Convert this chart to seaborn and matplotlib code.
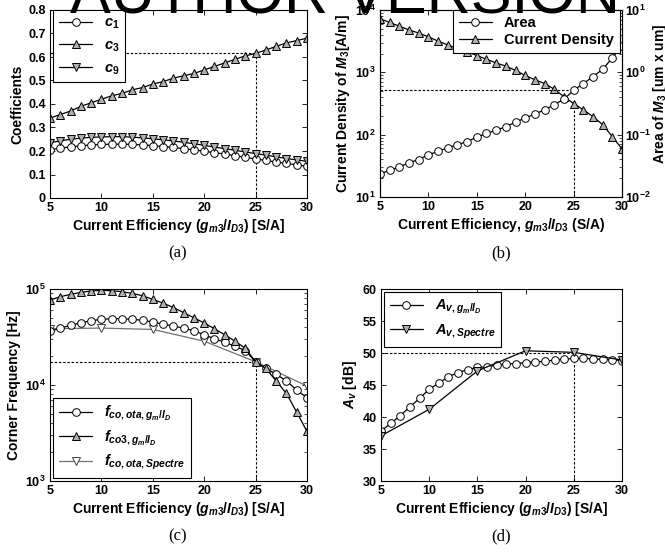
import numpy as np
import pandas as pd
import matplotlib
matplotlib.use("Agg")
import matplotlib.pyplot as plt
import seaborn as sns
from matplotlib.ticker import LogLocator, NullFormatter, MultipleLocator, FuncFormatter

# ---------------- data ----------------
x_full = list(range(5, 31))
x_spec = [5, 10, 15, 20, 25, 30]

c1 = [0.205, 0.212, 0.218, 0.222, 0.226, 0.228, 0.229, 0.229, 0.228, 0.226, 0.223, 0.219, 0.215,
      0.210, 0.205, 0.199, 0.193, 0.187, 0.180, 0.173, 0.166, 0.160, 0.153, 0.147, 0.141, 0.135]
c3 = [0.340, 0.355, 0.370, 0.390, 0.405, 0.420, 0.435, 0.445, 0.460, 0.470, 0.485, 0.495, 0.510,
      0.520, 0.530, 0.545, 0.560, 0.575, 0.590, 0.605, 0.615, 0.630, 0.645, 0.660, 0.670, 0.680]
c9 = [0.235, 0.243, 0.250, 0.255, 0.258, 0.260, 0.261, 0.261, 0.259, 0.256, 0.252, 0.248, 0.243,
      0.237, 0.231, 0.224, 0.217, 0.210, 0.203, 0.196, 0.189, 0.182, 0.175, 0.168, 0.162, 0.156]

current_density = [7244, 6310, 5495, 4786, 4266, 3715, 3162, 2754, 2399, 2138, 1862, 1622, 1413,
                   1259, 1072, 891, 759, 661, 537, 407, 316, 251, 195, 145, 93, 59]
area = [0.0234, 0.0269, 0.0302, 0.0355, 0.0398, 0.0479, 0.0537, 0.0617, 0.0692, 0.0776, 0.0912,
        0.105, 0.117, 0.135, 0.158, 0.186, 0.214, 0.251, 0.302, 0.372, 0.513, 0.661, 0.851,
        1.12, 1.70, 2.69]

f_co_ota = [36140, 39170, 41780, 44570, 46770, 48310, 49090, 49090, 48310, 47210, 45290, 43150,
            41110, 39170, 36730, 33340, 30270, 27930, 25350, 22800, 17460, 14860, 12940, 11020,
            8851, 7362]
f_co3 = [76560, 83180, 87900, 92260, 95280, 96830, 95940, 93760, 89950, 85110, 77800, 71290,
         64120, 56750, 50120, 44260, 38550, 33340, 28580, 24100, 17460, 14860, 11020, 8166,
         5200, 3281]
f_co_spectre = [38550, 39170, 37930, 28580, 17460, 9750]

av_gmid = [37.8, 39.0, 40.2, 41.6, 42.9, 44.35, 45.3, 46.3, 46.95, 47.4, 47.75, 47.85, 48.1,
           48.3, 48.35, 48.5, 48.6, 48.7, 48.9, 49.05, 49.15, 49.15, 49.1, 49.0, 48.95, 48.8]
av_spectre = [37.05, 41.2, 47.2, 50.35, 50.1, 48.9]

# ---------------- style ----------------
sns.set_theme(style="ticks")
plt.rcParams.update({
    "font.family": ["Liberation Sans", "DejaVu Sans"],
    "font.weight": "bold",
    "axes.labelweight": "bold",
    "axes.labelsize": 10,
    "xtick.labelsize": 9,
    "ytick.labelsize": 9,
    "mathtext.fontset": "custom",
    "mathtext.rm": "Liberation Sans:bold",
    "mathtext.it": "Liberation Sans:bold:italic",
    "mathtext.bf": "Liberation Sans:bold",
    "mathtext.sf": "Liberation Sans:bold",
    "xtick.direction": "in",
    "ytick.direction": "in",
    "xtick.top": True,
    "ytick.right": True,
    "xtick.major.size": 3.5,
    "ytick.major.size": 3.5,
    "xtick.minor.size": 2,
    "ytick.minor.size": 2,
    "xtick.major.width": 0.6,
    "ytick.major.width": 0.6,
    "ytick.minor.width": 0.5,
    "axes.edgecolor": "black",
    "axes.linewidth": 0.8,
    "xtick.color": "black",
    "ytick.color": "black",
    "text.color": "black",
    "axes.labelcolor": "black",
})

W, H = 665, 554
fig = plt.figure(figsize=(W / 100, H / 100), dpi=100)


def rect(l, r, t, b):
    return [l / W, 1 - b / H, (r - l) / W, (b - t) / H]


ax_a = fig.add_axes(rect(50, 307, 10, 198))
ax_b = fig.add_axes(rect(380, 622, 10, 197))
ax_c = fig.add_axes(rect(50, 307, 289, 481))
ax_d = fig.add_axes(rect(381, 622, 289, 481))

GRAY = "#b0b0b0"
WHITE = "#ffffff"


def draw(ax, x, y, marker, mfc, color="black", ms=6, mec="black"):
    sns.lineplot(x=x, y=y, ax=ax, marker=marker, color=color, markerfacecolor=mfc,
                 markeredgecolor=mec, markersize=ms, markeredgewidth=0.7, linewidth=0.9,
                 legend=False)
    return ax.lines[-1]


dash = dict(color="black", linestyle=(0, (2.2, 1.6)), linewidth=0.8, zorder=1)
leg_kw = dict(frameon=True, fancybox=False, framealpha=1, edgecolor="black",
              handlelength=2.3, borderaxespad=0, prop={"size": 10.5, "weight": "bold"})

# ---------------- (a) ----------------
ax = ax_a
h1 = draw(ax, x_full, c1, "o", WHITE, ms=5.5)
h3 = draw(ax, x_full, c3, "^", GRAY)
h9 = draw(ax, x_full, c9, "v", GRAY)
ax.plot([5, 25], [c3[20], c3[20]], **dash)
ax.plot([25, 25], [0, c3[20]], **dash)
ax.set_xlim(5, 30)
ax.set_ylim(0, 0.8)
ax.xaxis.set_major_locator(MultipleLocator(5))
ax.yaxis.set_major_locator(MultipleLocator(0.1))
ax.yaxis.set_major_formatter(FuncFormatter(lambda v, p: "0" if abs(v) < 1e-9 else f"{v:.1f}"))
ax.set_xlabel(r"Current Efficiency ($g_{m3}/I_{D3}$) [S/A]", labelpad=2)
ax.set_ylabel("Coefficients", labelpad=3)
lg = ax.legend([h1, h3, h9], [r"$c_1$", r"$c_3$", r"$c_9$"], loc="upper left",
               bbox_to_anchor=(0.012, 1.0), labelspacing=0.5, **leg_kw)
lg.get_frame().set_linewidth(0.8)

# ---------------- (b) ----------------
ax = ax_b
ax2 = ax.twinx()
ax.set_yscale("log")
ax2.set_yscale("log")
hcd = draw(ax, x_full, current_density, "^", GRAY)
har = draw(ax2, x_full, area, "o", WHITE, ms=5.5)
ax2.plot([5, 25], [area[20], area[20]], **dash)
ax.plot([25, 25], [10, current_density[20]], **dash)
ax.set_xlim(5, 30)
ax.set_ylim(10, 1e4)
ax2.set_ylim(1e-2, 10)
for a in (ax, ax2):
    a.yaxis.set_major_locator(LogLocator(base=10, numticks=10))
    a.yaxis.set_minor_locator(LogLocator(base=10, subs=np.arange(2, 10), numticks=10))
    a.yaxis.set_minor_formatter(NullFormatter())
ax.tick_params(axis="y", which="both", right=False)
ax2.tick_params(axis="y", which="both", left=False, right=True, direction="in", labelsize=9,
                pad=2)
ax.xaxis.set_major_locator(MultipleLocator(5))
ax.set_xlabel(r"Current Efficiency, $g_{m3}/I_{D3}$ (S/A)", labelpad=2)
ax.set_ylabel(r"Current Density of $M_3$[A/m]", labelpad=2)
ax2.set_ylabel(r"Area of $M_3$ [um x um]", fontsize=10)
ax2.yaxis.set_label_coords(1.118, 0.55)
for s in ax2.spines.values():
    s.set_linewidth(0.8)
lg = ax2.legend([har, hcd], ["Area", "Current Density"], loc="upper right",
                bbox_to_anchor=(0.99, 1.0), labelspacing=0.2, **leg_kw)
lg.get_frame().set_linewidth(0.8)

# ---------------- (c) ----------------
ax = ax_c
ax.set_yscale("log")
hs = draw(ax, x_spec, f_co_spectre, "v", WHITE, color="#707070", mec="#404040")
ho = draw(ax, x_full, f_co_ota, "o", WHITE, ms=5.5)
h3c = draw(ax, x_full, f_co3, "^", GRAY)
ax.plot([5, 25], [f_co_ota[20], f_co_ota[20]], **dash)
ax.plot([25, 25], [1e3, f_co_ota[20]], **dash)
ax.set_xlim(5, 30)
ax.set_ylim(1e3, 1e5)
ax.yaxis.set_major_locator(LogLocator(base=10, numticks=10))
ax.yaxis.set_minor_locator(LogLocator(base=10, subs=np.arange(2, 10), numticks=10))
ax.yaxis.set_minor_formatter(NullFormatter())
ax.xaxis.set_major_locator(MultipleLocator(5))
ax.set_xlabel(r"Current Efficiency ($g_{m3}/I_{D3}$) [S/A]", labelpad=2)
ax.set_ylabel("Corner Frequency [Hz]", labelpad=3)
lg = ax.legend([ho, h3c, hs],
               [r"$f_{co,ota,g_m/I_D}$", r"$f_{co3,g_m/I_D}$", r"$f_{co,ota,Spectre}$"],
               loc="lower left", bbox_to_anchor=(0.012, 0.015), labelspacing=0.35, **leg_kw)
lg.get_frame().set_linewidth(0.8)

# ---------------- (d) ----------------
ax = ax_d
hg = draw(ax, x_full, av_gmid, "o", WHITE, ms=5.5)
hsp = draw(ax, x_spec, av_spectre, "v", GRAY)
ax.plot([5, 25], [50, 50], **dash)
ax.plot([25, 25], [30, av_gmid[20]], **dash)
ax.set_xlim(5, 30)
ax.set_ylim(30, 60)
ax.xaxis.set_major_locator(MultipleLocator(5))
ax.yaxis.set_major_locator(MultipleLocator(5))
ax.set_xlabel(r"Current Efficiency ($g_{m3}/I_{D3}$) [S/A]", labelpad=2)
ax.set_ylabel(r"$A_v$ [dB]", labelpad=3)
lg = ax.legend([hg, hsp], [r"$A_{v,g_m/I_D}$", r"$A_{v,Spectre}$"], loc="upper left",
               bbox_to_anchor=(0.012, 0.985), labelspacing=0.45, **leg_kw)
lg.get_frame().set_linewidth(0.8)

for a in (ax_a, ax_b, ax_c, ax_d):
    a.tick_params(axis="both", which="major", pad=3)
    for s in a.spines.values():
        s.set_linewidth(0.8)
        s.set_color("black")

# captions
for (cx, cy, t) in [(178, 253, "(a)"), (501, 253, "(b)"), (178, 536, "(c)"), (501, 536, "(d)")]:
    fig.text(cx / W, 1 - cy / H, t, ha="center", va="center", fontsize=12,
             family=["Liberation Serif", "DejaVu Serif"], weight="normal")

# watermark
fig.text(345 / W, 1 - 13 / H, "AUTHOR VERSION", ha="center", va="baseline", fontsize=44,
         family=["Liberation Sans", "DejaVu Sans"], weight="normal", color="black", zorder=10)

fig.savefig("out.png", dpi=100)
